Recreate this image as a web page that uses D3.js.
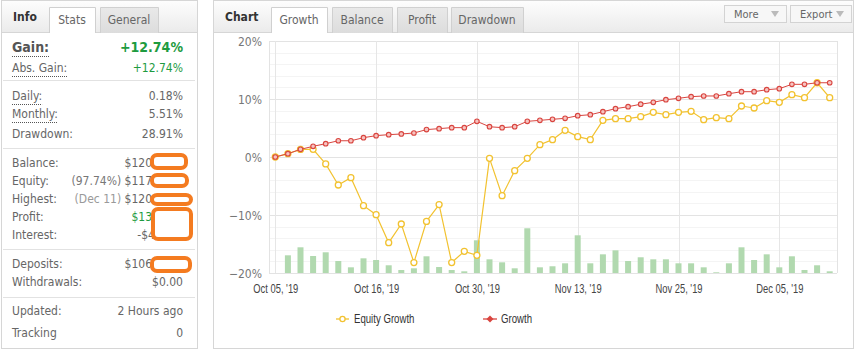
<!DOCTYPE html>
<html>
<head>
<meta charset="utf-8">
<script src="https://cdn.jsdelivr.net/npm/d3@7"></script>
<style>
  body { margin: 0; background: #fff; }
  svg text { font-family: "DejaVu Sans Condensed", "Liberation Sans", sans-serif; }
  .narrow { font-family: "Liberation Sans Narrow", "Arial Narrow", "Liberation Sans", sans-serif !important; }
</style>
</head>
<body>
<svg id="page" width="858" height="352"></svg>
<script>
// chart data (one point per trading day)
var growth = [0, 0.57, 1.32, 1.84, 2.3, 2.8, 2.8, 3.33, 3.68, 3.85, 3.97, 4.14, 4.72, 4.89,
  5.06, 5.06, 6.15, 5.22, 5.06, 5.22, 6.15, 6.32, 6.5, 6.67, 7.12, 7.29, 7.81, 8.33, 8.67,
  9.1, 9.43, 9.88, 10.12, 10.4, 10.52, 10.52, 10.91, 11.26, 11.26, 11.6, 11.78, 12.53, 12.53, 12.8, 12.8];
var equity = [0, 0.57, 1.3, 1.32, -1.2, -4.83, -3.56, -8.39, -9.94, -14.77, -11.55, -18.2, -11.1, -8.2,
  -18.2, -16.26, -16.95, -0.23, -6.67, -2.36, -0.23, 2.13, 2.99, 4.6, 3.51, 2.99, 6.32, 6.61, 6.61,
  6.95, 7.7, 7.3, 7.7, 7.87, 6.44, 6.78, 6.61, 8.79, 8.45, 9.71, 9.43, 10.74, 10.23, 12.8, 10.23];
var daily = [0, 3.05, 4.43, 2.93, 3.57, 2.07, 0.98, 2.53, 2.24, 1.33, 0.52, 0.81, 2.88, 1.03,
  0.52, 0.29, 5.64, 2.36, 1.84, 0.81, 7.71, 0.98, 1.16, 1.67, 6.5, 1.67, 3.22, 3.91, 2.07,
  2.71, 2.36, 2.36, 1.67, 1.67, 0.98, 0.12, 1.67, 4.43, 2.24, 3.22, 0.98, 2.88, 0.52, 1.33, 0.29];
var tickIdx = [0, 8, 16, 24, 32, 40];
var tickLabels = ["Oct 05, '19", "Oct 16, '19", "Oct 30, '19", "Nov 13, '19", "Nov 25, '19", "Dec 05, '19"];
var yTicks = [-20, -10, 0, 10, 20];

// left panel rows
var statRows = [
  {label: "Daily:", value: "0.18%", y: 100, dots: true},
  {label: "Monthly:", value: "5.51%", y: 118, dots: true},
  {label: "Drawdown:", value: "28.91%", y: 138}
];

var svg = d3.select("#page");
var defs = svg.append("defs");
var hg = defs.append("linearGradient").attr("id", "hdr").attr("x1", 0).attr("x2", 0).attr("y1", 0).attr("y2", 1);
hg.append("stop").attr("offset", "0%").attr("stop-color", "#fdfdfd");
hg.append("stop").attr("offset", "100%").attr("stop-color", "#ebebeb");
var tg = defs.append("linearGradient").attr("id", "tab").attr("x1", 0).attr("x2", 0).attr("y1", 0).attr("y2", 1);
tg.append("stop").attr("offset", "0%").attr("stop-color", "#e9e9e9");
tg.append("stop").attr("offset", "100%").attr("stop-color", "#dcdcdc");

// squeeze a text to look like a narrow face
function narrow(sel, k) {
  sel.each(function() {
    var w = this.getComputedTextLength();
    d3.select(this).attr("textLength", w * k).attr("lengthAdjust", "spacingAndGlyphs");
  });
}

function header(x, w, title, tabs) {
  svg.append("rect").attr("x", x + 0.5).attr("y", 0.5).attr("width", w).attr("height", 348)
    .attr("fill", "#fff").attr("stroke", "#d6d6d6");
  svg.append("rect").attr("x", x + 1).attr("y", 1).attr("width", w - 1).attr("height", 31).attr("fill", "url(#hdr)");
  svg.append("line").attr("x1", x + 1).attr("x2", x + w).attr("y1", 32.5).attr("y2", 32.5).attr("stroke", "#d6d6d6");
  svg.append("text").attr("x", x + 12).attr("y", 21).attr("font-size", 12).attr("font-weight", "bold")
    .attr("fill", "#333").text(title);
  tabs.forEach(function(t) {
    svg.append("path")
      .attr("d", "M" + (t.x + 0.5) + ",33V7.5H" + (t.x + t.w + 0.5) + "V33")
      .attr("fill", t.active ? "#fff" : "url(#tab)").attr("stroke", "#d0d0d0");
    if (t.active) svg.append("rect").attr("x", t.x + 1).attr("y", 31).attr("width", t.w - 1).attr("height", 3).attr("fill", "#fff");
    svg.append("text").attr("x", t.x + t.w / 2).attr("y", 24).attr("text-anchor", "middle")
      .attr("font-size", 12).attr("fill", "#666").text(t.name);
  });
}

// ---- left info panel
header(1, 196, "Info", [{name: "Stats", x: 49, w: 46, active: true}, {name: "General", x: 100, w: 58}]);

var L = 12, R = 183;
function row(label, value, y, opts) {
  opts = opts || {};
  var t = svg.append("text").attr("x", L).attr("y", y).attr("font-size", opts.size || 12)
    .attr("font-weight", opts.bold ? "bold" : null).attr("fill", opts.bold ? "#555" : "#666").text(label);
  if (opts.dots) {
    var w = t.node().getComputedTextLength();
    svg.append("line").attr("x1", L).attr("x2", L + w).attr("y1", y + 4.5).attr("y2", y + 4.5)
      .attr("stroke", "#555").attr("stroke-dasharray", "1,1");
  }
  if (value != null) {
    svg.append("text").attr("x", opts.vx || R).attr("y", y).attr("text-anchor", "end")
      .attr("font-size", opts.size || 12).attr("font-weight", opts.bold ? "bold" : null)
      .attr("fill", opts.color || "#666").text(value);
  }
}
row("Gain:", "+12.74%", 52, {size: 14, bold: true, color: "#1e9b3f", dots: true});
row("Abs. Gain:", "+12.74%", 72, {color: "#1e9b3f", dots: true});
statRows.forEach(function(r) { row(r.label, r.value, r.y, {dots: r.dots}); });

function sep(y) {
  svg.append("line").attr("x1", 3).attr("x2", 195).attr("y1", y + 0.5).attr("y2", y + 0.5).attr("stroke", "#e2e2e2");
}
sep(80); sep(148); sep(249); sep(297);

row("Balance:", "$120", 167, {vx: 152});
row("Equity:", null, 185);
svg.append("text").attr("x", 152).attr("y", 185).attr("text-anchor", "end").attr("font-size", 12)
  .call(function(t) {
    t.append("tspan").attr("fill", "#777").text("(97.74%) ");
    t.append("tspan").attr("fill", "#666").text("$117");
  });
row("Highest:", null, 203);
svg.append("text").attr("x", 152).attr("y", 203).attr("text-anchor", "end").attr("font-size", 12)
  .call(function(t) {
    t.append("tspan").attr("fill", "#999").text("(Dec 11) ");
    t.append("tspan").attr("fill", "#666").text("$120");
  });
row("Profit:", "$13", 221, {vx: 152, color: "#1e9b3f"});
row("Interest:", "-$4", 239, {vx: 155});
row("Deposits:", "$106", 268, {vx: 152});
row("Withdrawals:", "$0.00", 286);
row("Updated:", "2 Hours ago", 315);
row("Tracking", "0", 337);

// orange highlight marks
var marks = [[152, 155, 34, 13], [152, 175, 35, 11], [152, 195, 39, 9], [153, 209, 38, 30], [152, 258, 38, 13]];
svg.selectAll("rect.mark").data(marks).enter().append("rect").attr("class", "mark")
  .attr("x", function(d) { return d[0]; }).attr("y", function(d) { return d[1]; })
  .attr("width", function(d) { return d[2]; }).attr("height", function(d) { return d[3]; })
  .attr("rx", 5).attr("fill", "#fff").attr("stroke", "#f47b20").attr("stroke-width", 4);

// ---- right chart panel
header(213, 640, "Chart", [
  {name: "Growth", x: 271, w: 56, active: true},
  {name: "Balance", x: 332, w: 60},
  {name: "Profit", x: 397, w: 50},
  {name: "Drawdown", x: 451, w: 72}]);

function button(x, w, name) {
  svg.append("rect").attr("x", x + 0.5).attr("y", 5.5).attr("width", w).attr("height", 17)
    .attr("fill", "#f7f7f7").attr("stroke", "#d3d3d3");
  svg.append("text").attr("x", x + 10).attr("y", 18).attr("font-size", 11).attr("fill", "#666").text(name);
  var tx = x + w - 11;
  svg.append("path").attr("d", "M" + (tx - 4) + ",11L" + (tx + 4) + ",11L" + tx + ",17Z").attr("fill", "#bbb");
}
button(724, 62, "More");
button(790, 61, "Export");

// plot
var pLeft = 269, pRight = 837, pTop = 41, pBottom = 273;
var x = d3.scalePoint().domain(d3.range(growth.length)).range([275.3, 829.7]);
var y = d3.scaleLinear().domain([-20, 20]).range([pBottom, pTop]);
var yBar = d3.scaleLinear().domain([0, 40]).range([0, pBottom - pTop]);

var grid = svg.append("g");
grid.selectAll("line.minor").data(d3.range(-18, 20, 2).filter(function(v) { return v % 10 !== 0; }))
  .enter().append("line").attr("x1", pLeft).attr("x2", pRight)
  .attr("y1", function(d) { return Math.round(y(d)) + 0.5; }).attr("y2", function(d) { return Math.round(y(d)) + 0.5; })
  .attr("stroke", "#f4f4f4");
grid.selectAll("line.major").data(yTicks).enter().append("line").attr("x1", pLeft).attr("x2", pRight)
  .attr("y1", function(d) { return Math.round(y(d)) + 0.5; }).attr("y2", function(d) { return Math.round(y(d)) + 0.5; })
  .attr("stroke", "#e3e3e3");
grid.selectAll("line.v").data(tickIdx).enter().append("line")
  .attr("x1", function(d) { return Math.round(x(d)) + 0.5; }).attr("x2", function(d) { return Math.round(x(d)) + 0.5; })
  .attr("y1", pTop).attr("y2", pBottom).attr("stroke", "#e6e6e6");
grid.append("line").attr("x1", pLeft + 0.5).attr("x2", pLeft + 0.5).attr("y1", pTop).attr("y2", pBottom).attr("stroke", "#e3e3e3");
grid.append("line").attr("x1", pRight + 0.5).attr("x2", pRight + 0.5).attr("y1", pTop).attr("y2", pBottom).attr("stroke", "#e3e3e3");

// daily bars
svg.append("g").selectAll("rect").data(daily).enter().append("rect")
  .attr("x", function(d, i) { return x(i) - 3; }).attr("width", 6)
  .attr("y", function(d) { return pBottom - yBar(d); }).attr("height", function(d) { return yBar(d); })
  .attr("fill", "#b1d9af");

// axes
var yAxis = svg.append("g").attr("transform", "translate(" + (pLeft - 4) + ",0)")
  .call(d3.axisLeft(y).tickValues(yTicks).tickSize(0).tickFormat(function(d) { return d3.format("d")(d) + "%"; }));
yAxis.select(".domain").remove();
yAxis.selectAll("text").attr("font-size", 12).attr("fill", "#777").attr("dy", "0.35em");

var xAxis = svg.append("g").attr("transform", "translate(0," + (pBottom + 8) + ")")
  .call(d3.axisBottom(x).tickValues(tickIdx).tickSize(0)
    .tickFormat(function(d) { return tickLabels[tickIdx.indexOf(d)]; }));
xAxis.select(".domain").remove();
xAxis.selectAll("text").attr("class", "narrow").attr("font-size", 13).attr("fill", "#444").call(narrow, 0.72);

// series
var line = d3.line().x(function(d, i) { return x(i); }).y(function(d) { return y(d); });
svg.append("path").datum(equity).attr("d", line).attr("fill", "none").attr("stroke", "#f2c230").attr("stroke-width", 1.2);
svg.append("g").selectAll("circle").data(equity).enter().append("circle")
  .attr("cx", function(d, i) { return x(i); }).attr("cy", function(d) { return y(d); }).attr("r", 3)
  .attr("fill", "#fff").attr("stroke", "#f2c230").attr("stroke-width", 1.3);
svg.append("path").datum(growth).attr("d", line).attr("fill", "none").attr("stroke", "#d9453f").attr("stroke-width", 1);
svg.append("g").selectAll("circle").data(growth).enter().append("circle")
  .attr("cx", function(d, i) { return x(i); }).attr("cy", function(d) { return y(d); }).attr("r", 2.3)
  .attr("fill", "#f6c4c1").attr("stroke", "#d9453f").attr("stroke-width", 1.1);

// legend
var lg = svg.append("g");
lg.append("line").attr("x1", 336).attr("x2", 349).attr("y1", 319).attr("y2", 319).attr("stroke", "#f2c230").attr("stroke-width", 1.3);
lg.append("circle").attr("cx", 342.5).attr("cy", 319).attr("r", 2.6).attr("fill", "#fff").attr("stroke", "#f2c230").attr("stroke-width", 1.3);
lg.append("text").attr("class", "narrow").attr("x", 354).attr("y", 323).attr("font-size", 13).attr("fill", "#333").text("Equity Growth").call(narrow, 0.74);
lg.append("line").attr("x1", 483).attr("x2", 497).attr("y1", 319).attr("y2", 319).attr("stroke", "#d9453f").attr("stroke-width", 1.3);
lg.append("path").attr("d", "M490,315.5L493.5,319L490,322.5L486.5,319Z").attr("fill", "#d9453f");
lg.append("text").attr("class", "narrow").attr("x", 501).attr("y", 323).attr("font-size", 13).attr("fill", "#333").text("Growth").call(narrow, 0.74);
</script>
</body>
</html>
